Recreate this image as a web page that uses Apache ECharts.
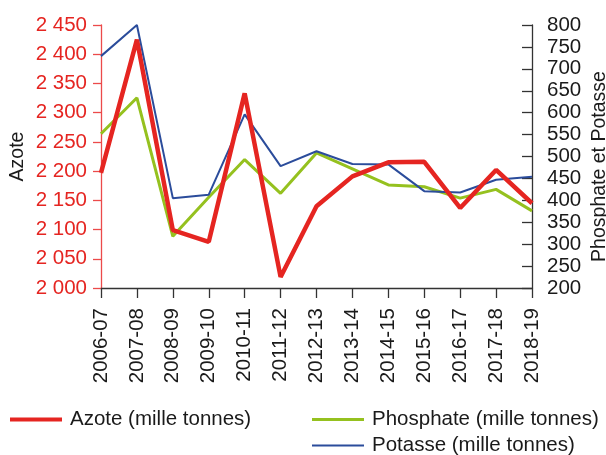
<!DOCTYPE html>
<html>
<head>
<meta charset="utf-8">
<script src="https://cdn.jsdelivr.net/npm/echarts@6/dist/echarts.min.js"></script>
<style>
  html, body { margin: 0; padding: 0; background: #ffffff; }
  #chart { width: 606px; height: 455px; }
</style>
</head>
<body>
<div id="chart"></div>
<script>
// Campagnes agricoles
const campagnes = ['2006-07', '2007-08', '2008-09', '2009-10', '2010-11', '2011-12', '2012-13',
  '2013-14', '2014-15', '2015-16', '2016-17', '2017-18', '2018-19'];

// Consommation d'engrais (mille tonnes)
const azote = [2197, 2425, 2099, 2079, 2333, 2019, 2140, 2191, 2215, 2216, 2137, 2202, 2145];
const phosphate = [552, 634, 318, 407, 493, 416, 508, 472, 435, 431, 405, 425, 376];
const potasse = [729, 800, 405, 413, 596, 478, 512, 483, 482, 421, 418, 447, 454];

// Graduations des axes
const azoteTicks = { min: 2000, max: 2450, step: 50 };
const ppTicks = { min: 200, max: 800, step: 50 };

const ROUGE = '#e52521';
const VERT = '#95c11f';
const BLEU = '#2b4c9b';
const FONT = 'Liberation Sans, Arial, sans-serif';

function milliers(v) {
  return String(v).replace(/\B(?=(\d{3})+(?!\d))/g, ' ');
}

// Une légende par série, chacune avec l'épaisseur de trait de sa courbe
function legende(nom, couleur, epaisseur, left, top) {
  return {
    data: [nom],
    left: left, top: top,
    padding: 0,
    icon: 'rect',
    itemWidth: 52, itemHeight: epaisseur,
    itemStyle: { color: couleur },
    textStyle: { fontFamily: FONT, fontSize: 20.5, color: '#1a1a1a', padding: [0, 0, 0, 3] }
  };
}

const chart = echarts.init(document.getElementById('chart'), null, { renderer: 'canvas' });

chart.setOption({
  animation: false,
  backgroundColor: '#ffffff',
  grid: { left: 101, right: 74, top: 25, bottom: 167, outerBoundsMode: 'none', containLabel: false },
  legend: [
    legende('Azote (mille tonnes)', ROUGE, 4, 10, 409),
    legende('Phosphate (mille tonnes)', VERT, 3, 312, 409),
    legende('Potasse (mille tonnes)', BLEU, 2, 312, 435)
  ],
  xAxis: {
    type: 'category',
    data: campagnes,
    boundaryGap: false,
    axisLine: { lineStyle: { color: '#333333', width: 1.3 } },
    axisTick: { show: true, alignWithLabel: true, length: 10, lineStyle: { color: '#333333', width: 1.3 } },
    axisLabel: { rotate: 90, margin: 20, fontFamily: FONT, fontSize: 20.5, color: '#1a1a1a', interval: 0 },
    splitLine: { show: false }
  },
  yAxis: [
    {
      type: 'value',
      position: 'left',
      min: azoteTicks.min, max: azoteTicks.max, interval: azoteTicks.step,
      name: 'Azote',
      nameLocation: 'middle',
      nameRotate: 90,
      nameGap: 73,
      nameMoveOverlap: false,
      nameTextStyle: { fontFamily: FONT, fontSize: 19.5, color: '#1a1a1a' },
      axisLine: { show: true, lineStyle: { color: '#ec4a4a', width: 1.3 } },
      axisTick: { show: true, inside: false, length: 8, lineStyle: { color: '#ec4a4a', width: 1.3 } },
      axisLabel: { margin: 14, fontFamily: FONT, fontSize: 20.5, color: ROUGE, formatter: milliers },
      splitLine: { show: false }
    },
    {
      type: 'value',
      position: 'right',
      min: ppTicks.min, max: ppTicks.max, interval: ppTicks.step,
      name: 'Phosphate et Potasse',
      nameLocation: 'middle',
      nameRotate: 90,
      nameGap: 58,
      nameMoveOverlap: false,
      nameTextStyle: { fontFamily: FONT, fontSize: 19.5, color: '#1a1a1a', padding: [0, 20, 0, 0] },
      axisLine: { show: true, lineStyle: { color: '#333333', width: 1.3 } },
      axisTick: { show: true, inside: true, length: 10, lineStyle: { color: '#333333', width: 1.3 } },
      axisLabel: { margin: 15, fontFamily: FONT, fontSize: 20.5, color: '#1a1a1a' },
      splitLine: { show: false }
    }
  ],
  series: [
    {
      name: 'Phosphate (mille tonnes)',
      type: 'line',
      yAxisIndex: 1,
      data: phosphate,
      symbol: 'none',
      lineStyle: { color: VERT, width: 3 },
      itemStyle: { color: VERT },
      z: 2
    },
    {
      name: 'Potasse (mille tonnes)',
      type: 'line',
      yAxisIndex: 1,
      data: potasse,
      symbol: 'none',
      lineStyle: { color: BLEU, width: 2 },
      itemStyle: { color: BLEU },
      z: 3
    },
    {
      name: 'Azote (mille tonnes)',
      type: 'line',
      yAxisIndex: 0,
      data: azote,
      symbol: 'none',
      lineStyle: { color: ROUGE, width: 4.5 },
      itemStyle: { color: ROUGE },
      z: 4
    }
  ]
});
</script>
</body>
</html>
